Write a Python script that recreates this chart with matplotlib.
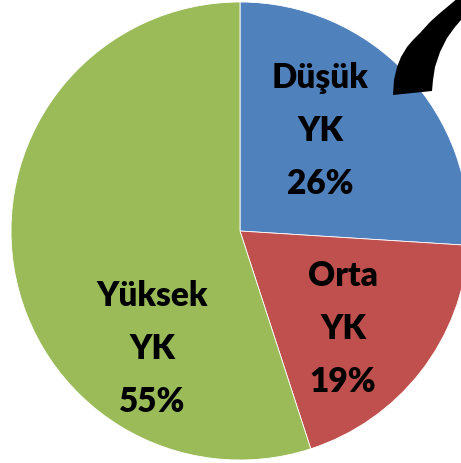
import matplotlib
matplotlib.use("Agg")
import matplotlib.pyplot as plt
from matplotlib.patches import Polygon

categories = ["Düşük\nYK", "Orta\nYK", "Yüksek\nYK"]
values = [26, 19, 55]
colors = ["#4F81BD", "#C0504D", "#9BBB59"]

W, H = 461, 463
fig = plt.figure(figsize=(W / 100, H / 100), dpi=100)
ax = fig.add_axes([0, 0, 1, 1])

cx, cy, r = 240, H - 231, 229
wedges, _ = ax.pie(values, colors=colors, startangle=90, counterclock=False,
                   center=(cx, cy), radius=r, frame=True,
                   wedgeprops=dict(edgecolor="white", linewidth=0.6))

# label positions (pixel coords, y measured from top)
label_pos = [(320, 131), (343, 329), (152, 349)]
for cat, v, (lx, ly) in zip(categories, values, label_pos):
    ax.text(lx, H - ly, f"{cat}\n{v}%", ha="center", va="center",
            fontsize=24, fontweight="heavy", family=["Lato", "DejaVu Sans"],
            linespacing=1.8, color="black")

# black curved band (decoration, top right)
outer = [(393, 95), (394, 80), (397, 67), (401, 57), (407, 47), (413, 40),
         (420, 33), (430, 22), (440, 13), (452, 3), (460, -4)]
inner = [(470, 10), (465, 15), (461, 20), (455, 27), (447, 38), (440, 52),
         (435, 67), (433, 80), (432, 91)]
pts = [(x, H - y) for x, y in outer + inner]
ax.add_patch(Polygon(pts, closed=True, facecolor="black", edgecolor="none", zorder=5))

ax.set_xlim(0, W)
ax.set_ylim(0, H)
ax.set_aspect("auto")
ax.axis("off")
fig.savefig("out.png", dpi=100)
